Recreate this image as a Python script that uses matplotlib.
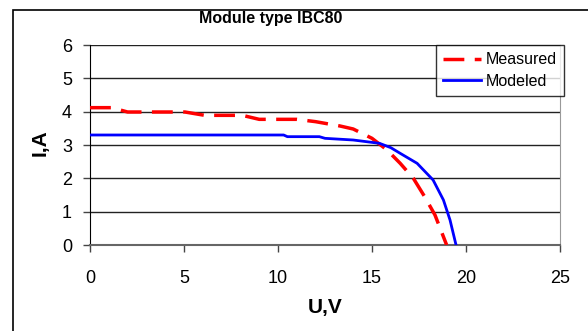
import matplotlib
matplotlib.use("Agg")
import matplotlib.pyplot as plt
from matplotlib.patches import Rectangle

plt.rcParams["font.family"] = ["Liberation Sans", "DejaVu Sans"]

# measured curve
u_meas = [0, 1.15, 2.0, 5.05, 6.1, 8.1, 9.0, 11.0, 12.0, 13.3, 14.0, 15.0, 15.8, 16.5, 17.2, 17.8, 18.35, 18.97]
i_meas = [4.12, 4.12, 3.99, 3.99, 3.89, 3.89, 3.77, 3.77, 3.7, 3.57, 3.48, 3.2, 2.85, 2.45, 2.0, 1.45, 0.9, 0.0]

# modeled curve
u_mod = [0, 10.3, 10.5, 12.2, 12.5, 14.0, 15.4, 16.0, 16.5, 17.4, 18.25, 18.8, 19.15, 19.47]
i_mod = [3.3, 3.3, 3.25, 3.25, 3.2, 3.15, 3.05, 2.92, 2.75, 2.45, 1.95, 1.35, 0.75, 0.0]

x_ticks = [0, 5, 10, 15, 20, 25]
y_ticks = [0, 1, 2, 3, 4, 5, 6]

fig = plt.figure(figsize=(5.88, 3.31), dpi=100)
ax = fig.add_axes([90 / 588, 1 - 245 / 331, 470 / 588, 200 / 331])

# outer chart frame
fig.patches.append(Rectangle((13 / 588, -0.05), 1.2, 1 - 10 / 331 + 0.05,
                             transform=fig.transFigure, fill=False,
                             edgecolor="black", linewidth=1.2))

for y in y_ticks[1:]:
    ax.axhline(y, color="#222222", linewidth=1.0, zorder=1)

ax.plot(u_meas, i_meas, color="#ff0000", linewidth=2.5, dashes=(6, 3), label="Measured", zorder=3)
ax.plot(u_mod, i_mod, color="#0000ff", linewidth=2.0, label="Modeled", zorder=3)

ax.set_xlim(0, 25)
ax.set_ylim(0, 6)
ax.set_xticks(x_ticks)
ax.set_yticks(y_ticks)
ax.tick_params(axis="both", labelsize=13, direction="out", length=5, width=1, color="#444444")
ax.tick_params(axis="x", pad=13)
ax.tick_params(axis="y", pad=8)

ax.spines["top"].set_visible(False)
ax.spines["right"].set_color("#999999")
ax.spines["right"].set_linewidth(0.8)
ax.spines["left"].set_color("black")
ax.spines["bottom"].set_color("#666666")
ax.spines["bottom"].set_linewidth(1.5)

fig.text(271 / 588, 1 - 18 / 331, "Module type IBC80", ha="center", va="center",
         fontsize=11.5, fontweight="bold")
fig.text(40 / 588, 1 - 143 / 331, "I,A", rotation=90, ha="center", va="center",
         fontsize=15, fontweight="bold")
fig.text(325 / 588, 1 - 308 / 331, "U,V", ha="center", va="center",
         fontsize=15, fontweight="bold")

leg = ax.legend(loc="upper right", bbox_to_anchor=(1.008, 1.0), fontsize=11.5, frameon=True,
                fancybox=False, handlelength=2.35, handletextpad=0.3, borderpad=0.45,
                labelspacing=0.42, borderaxespad=0)
leg.get_frame().set_edgecolor("black")
leg.get_frame().set_linewidth(1.0)

fig.savefig("out.png", dpi=100)
